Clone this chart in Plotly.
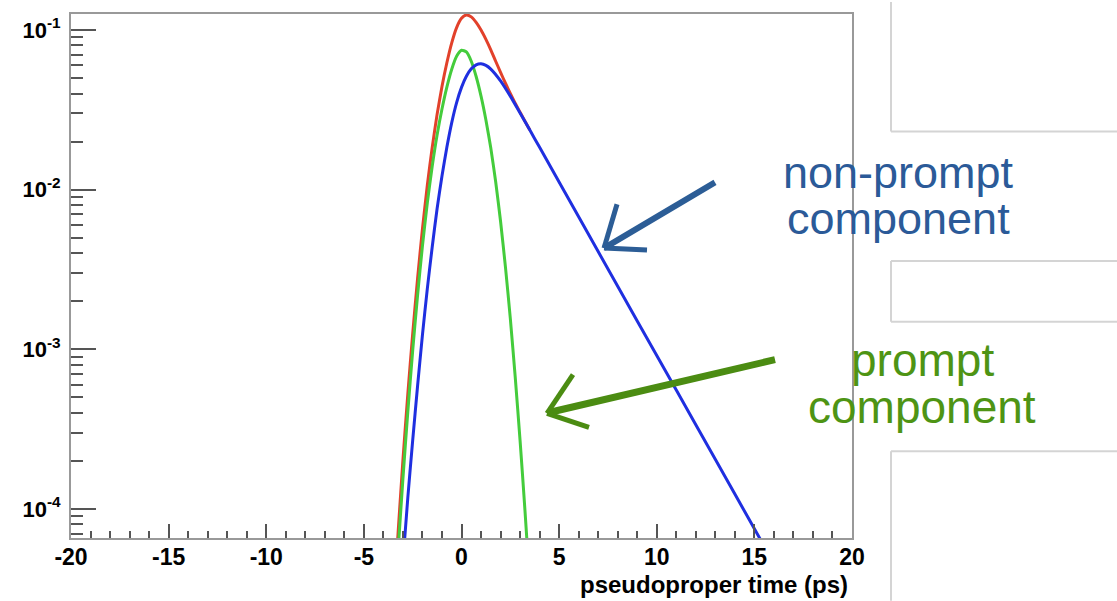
import plotly.graph_objects as go

# ---------------- data ----------------
prompt_t = [-3.5, -3.25, -3.0, -2.75, -2.5, -2.25, -2.0, -1.75, -1.5, -1.25, -1.0, -0.75, -0.5, -0.25,
            0.0, 0.25, 0.5, 0.75, 1.0, 1.25, 1.5, 1.75, 2.0, 2.25, 2.5, 2.75, 3.0, 3.25, 3.5]
prompt_y = [1.75e-5, 5.4e-5, 1.55e-4, 4.06e-4, 9.8e-4, 2.18e-3, 4.44e-3, 8.26e-3, 1.40e-2, 2.20e-2,
            3.20e-2, 4.39e-2, 5.68e-2, 6.84e-2, 7.46e-2, 7.28e-2, 6.37e-2, 5.11e-2, 3.85e-2, 2.73e-2,
            1.82e-2, 1.12e-2, 6.34e-3, 3.28e-3, 1.56e-3, 6.73e-4, 2.68e-4, 9.8e-5, 3.33e-5]

nonprompt_t = [-3.0, -2.75, -2.5, -2.25, -2.0, -1.75, -1.5, -1.25, -1.0, -0.75, -0.5, -0.25, 0.0,
               0.25, 0.5, 0.75, 1.0, 1.25, 1.5, 2.0, 2.5, 3.0, 3.5, 4.0, 6.0, 8.0, 10.0, 12.0,
               14.0, 15.5, 16.0]
nonprompt_y = [4.68e-5, 1.175e-4, 2.69e-4, 5.89e-4, 1.23e-3, 2.40e-3, 4.37e-3, 7.59e-3, 1.216e-2,
               1.84e-2, 2.63e-2, 3.51e-2, 4.37e-2, 5.13e-2, 5.71e-2, 6.05e-2, 6.14e-2, 6.0e-2,
               5.69e-2, 4.80e-2, 3.85e-2, 3.02e-2, 2.36e-2, 1.84e-2, 6.76e-3, 2.48e-3, 9.14e-4,
               3.37e-4, 1.24e-4, 5.85e-5, 4.55e-5]

total_t = [-3.5, -3.25, -3.0, -2.75, -2.5, -2.25, -2.0, -1.75, -1.5, -1.25, -1.0, -0.75, -0.5, -0.25,
           0.0, 0.25, 0.5, 0.75, 1.0, 1.25, 1.5, 1.75, 2.0, 2.25, 2.5, 2.75, 3.0, 3.25, 3.5]
total_y = [2.31e-5, 7.02e-5, 2.02e-4, 5.24e-4, 1.249e-3, 2.77e-3, 5.67e-3, 1.066e-2, 1.837e-2,
           2.96e-2, 4.42e-2, 6.23e-2, 8.31e-2, 1.035e-1, 1.183e-1, 1.241e-1, 1.208e-1, 1.116e-1,
           9.99e-2, 8.73e-2, 7.51e-2, 6.37e-2, 5.43e-2, 4.64e-2, 4.01e-2, 3.48e-2, 3.05e-2,
           2.68e-2, 2.36e-2]

x_ticks = [-20, -15, -10, -5, 0, 5, 10, 15, 20]
x_ticktext = ["-20", "-15", "-10", "-5", "0", "5", "10", "15", "20"]
y_ticks = [1e-4, 1e-3, 1e-2, 1e-1]
y_ticktext = ["10<sup>-4</sup>", "10<sup>-3</sup>", "10<sup>-2</sup>", "10<sup>-1</sup>"]
x_title = "pseudoproper time (ps)"
label_nonprompt = ["non-prompt", "component"]
label_prompt = ["prompt", "component"]

# ---------------- layout geometry (pixels) ----------------
W, H = 1117, 601
L, R, T, B = 71, 852, 12, 538


def pp(px, py):
    """pixel -> paper coordinates"""
    return (px - L) / (R - L), (B - py) / (B - T)


RED = "#e2412b"
GREEN = "#44cc3c"
BLUE = "#1f2fe0"
TXT_BLUE = "#2b5a98"
TXT_GREEN = "#4e9414"
FONT = "Liberation Sans, Arial, sans-serif"

fig = go.Figure()
fig.add_trace(go.Scatter(x=total_t, y=total_y, mode="lines",
                         line=dict(color=RED, width=3, shape="spline", smoothing=0.6)))
fig.add_trace(go.Scatter(x=prompt_t, y=prompt_y, mode="lines",
                         line=dict(color=GREEN, width=3, shape="spline", smoothing=0.6)))
fig.add_trace(go.Scatter(x=nonprompt_t, y=nonprompt_y, mode="lines",
                         line=dict(color=BLUE, width=3, shape="spline", smoothing=0.6)))

minor_y = []
for e in [1e-5, 1e-4, 1e-3, 1e-2, 1e-1]:
    for k in range(2, 10):
        minor_y.append(k * e)

fig.update_layout(
    width=W, height=H,
    margin=dict(l=L, r=W - R, t=T, b=H - B, pad=0),
    paper_bgcolor="white", plot_bgcolor="white",
    showlegend=False,
    xaxis=dict(range=[-20, 20], tickvals=x_ticks, ticktext=x_ticktext, ticks="inside",
               ticklen=14, tickwidth=1.5, tickcolor="#555", showgrid=False, zeroline=False,
               showline=True, mirror=True, linecolor="#999", linewidth=2,
               tickfont=dict(family=FONT, size=23, color="black", weight="bold"),
               ticklabelstandoff=-3,
               minor=dict(dtick=1, ticks="inside", ticklen=7, tickwidth=1.5, tickcolor="#555",
                          showgrid=False)),
    yaxis=dict(type="log", range=[-4.182, -0.900], tickvals=y_ticks, ticktext=y_ticktext,
               ticks="inside", ticklen=25, tickwidth=1.5, tickcolor="#555", showgrid=False,
               zeroline=False, showline=True, mirror=True, linecolor="#999", linewidth=2,
               tickfont=dict(family=FONT, size=22, color="black", weight="bold"),
               ticklabelstandoff=4,
               minor=dict(tickvals=minor_y, ticks="inside", ticklen=12, tickwidth=1.5,
                          tickcolor="#555", showgrid=False)),
)

annotations = []
ax_, ay_ = pp(850, 585)
annotations.append(dict(text=x_title, x=ax_, y=ay_, xref="paper", yref="paper",
                        xanchor="right", yanchor="middle", showarrow=False,
                        font=dict(family=FONT, size=24, color="black", weight="bold")))

for txt, (cx, cy) in zip(label_nonprompt, [(899, 171), (899, 217)]):
    px_, py_ = pp(cx, cy)
    annotations.append(dict(text=txt, x=px_, y=py_, xref="paper", yref="paper",
                            xanchor="center", yanchor="middle", showarrow=False,
                            font=dict(family=FONT, size=45, color=TXT_BLUE)))
for txt, (cx, cy) in zip(label_prompt, [(922, 359), (922, 406)]):
    px_, py_ = pp(cx, cy)
    annotations.append(dict(text=txt, x=px_, y=py_, xref="paper", yref="paper",
                            xanchor="center", yanchor="middle", showarrow=False,
                            font=dict(family=FONT, size=46, color=TXT_GREEN)))
fig.update_layout(annotations=annotations)

shapes = []


def seg(p0, p1, color, width):
    x0, y0 = pp(*p0)
    x1, y1 = pp(*p1)
    shapes.append(dict(type="line", xref="paper", yref="paper", x0=x0, y0=y0, x1=x1, y1=y1,
                       line=dict(color=color, width=width)))


# slide-box outlines on the right
GR = "#d4d4d4"
seg((891, 0), (891, 130), GR, 2)
seg((891, 130), (1117, 130), GR, 2)
seg((891, 260), (1117, 260), GR, 2)
seg((891, 260), (891, 321), GR, 2)
seg((891, 321), (1117, 321), GR, 2)
seg((891, 451), (1117, 451), GR, 2)
seg((891, 451), (891, 601), GR, 2)

# hand-drawn arrows
ARB = "#2c5d96"
seg((715, 181), (604, 247), ARB, 6)
seg((604, 247), (617, 203), ARB, 5)
seg((604, 247), (647, 249), ARB, 5)

ARG = "#4b8c12"
seg((775, 359), (549, 412), ARG, 7)
seg((547, 413), (573, 374), ARG, 5)
seg((547, 413), (589, 427), ARG, 5)

fig.update_layout(shapes=shapes)

fig.write_html("out.html")
